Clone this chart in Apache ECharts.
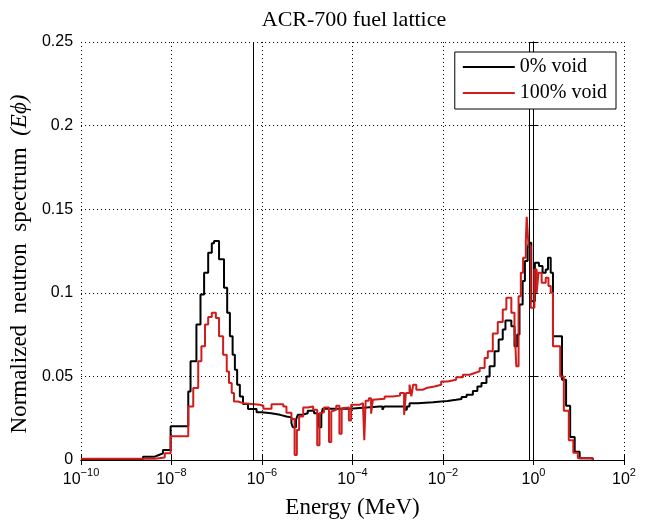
<!DOCTYPE html>
<html>
<head>
<meta charset="utf-8">
<script src="https://cdn.jsdelivr.net/npm/echarts@6/dist/echarts.min.js"></script>
<style>
  html, body { margin: 0; padding: 0; background: #fff; }
  #chart { width: 646px; height: 524px; }
</style>
</head>
<body>
<div id="chart"></div>
<script>
// energies as log10(E / MeV), one entry per group start
const logE0 = [-10, -8.63, -8.37, -8.28, -8.19, -8.02, -7.63, -7.58, -7.45, -7.36, -7.28, -7.19, -7.11, -7.06, -6.95, -6.84,
  -6.77, -6.71, -6.65, -6.60, -6.55, -6.49, -6.42, -6.31, -6.12, -6.01, -5.80, -5.60, -5.46, -5.35, -5.32, -5.25, -5.21,
  -5.12, -4.99, -4.85, -4.80, -4.74, -4.69, -4.66, -4.40, -4.06, -3.69, -3.40, -3.34, -3.30, -2.90, -2.85, -2.80, -2.74,
  -2.56, -2.22, -2.04, -1.90, -1.71, -1.59, -1.48, -1.34, -1.24, -1.15, -1.04, -0.97, -0.86, -0.77, -0.68, -0.62, -0.49,
  -0.42, -0.36, -0.31, -0.24, -0.19, -0.13, -0.10, -0.05, 0.03, 0.12, 0.20, 0.27, 0.32, 0.38, 0.43, 0.63, 0.72, 0.81,
  0.91, 1.02, 1.31];
const phi0 = [0.0005, 0.002, 0.003, 0.004, 0.006, 0.0202, 0.041, 0.059, 0.081, 0.099, 0.112, 0.124, 0.1297, 0.131, 0.120, 0.103,
  0.088, 0.074, 0.063, 0.054, 0.045, 0.038, 0.0335, 0.0305, 0.0285, 0.028, 0.027, 0.026, 0.0255, 0.022, 0.0196, 0.024, 0.027,
  0.028, 0.0295, 0.028, 0.027, 0.0196, 0.027, 0.0306, 0.0306, 0.0314, 0.032, 0.032, 0.030, 0.032, 0.032, 0.030, 0.032, 0.034,
  0.0345, 0.035, 0.0353, 0.036, 0.0365, 0.0377, 0.039, 0.0413, 0.044, 0.046, 0.050, 0.056, 0.065, 0.072, 0.078, 0.0835, 0.080,
  0.068, 0.075, 0.093, 0.107, 0.119, 0.127, 0.130, 0.095, 0.118, 0.116, 0.112, 0.114, 0.121, 0.112, 0.074, 0.048, 0.0324, 0.0137,
  0.0049, 0.001, 0];

const logE1 = [-10, -8.37, -8.15, -8.02, -7.63, -7.52, -7.41, -7.34, -7.26, -7.19, -7.11, -7.02, -6.95, -6.86, -6.78, -6.73,
  -6.67, -6.62, -6.53, -6.42, -6.05, -5.97, -5.79, -5.53, -5.46, -5.35, -5.28, -5.23, -5.18, -5.09, -4.99, -4.87, -4.78,
  -4.73, -4.69, -4.63, -4.52, -4.47, -4.43, -4.36, -4.29, -4.24, -4.20, -4.08, -4.03, -3.85, -3.77, -3.74, -3.71, -3.64,
  -3.59, -3.55, -3.51, -3.29, -3.11, -2.95, -2.86, -2.82, -2.74, -2.70, -2.66, -2.59, -2.45, -2.37, -2.19, -2.04, -1.90,
  -1.71, -1.56, -1.41, -1.30, -1.19, -1.08, -1.01, -0.90, -0.79, -0.68, -0.60, -0.49, -0.42, -0.38, -0.33, -0.28, -0.23,
  -0.17, -0.15, -0.11, -0.06, 0.02, 0.07, 0.11, 0.18, 0.27, 0.33, 0.38, 0.43, 0.59, 0.67, 0.78, 0.88, 0.98, 1.31];
const phi1 = [0.0007, 0.0015, 0.004, 0.0142, 0.032, 0.043, 0.059, 0.068, 0.081, 0.0855, 0.088, 0.085, 0.074, 0.063, 0.053, 0.046,
  0.040, 0.035, 0.034, 0.033, 0.0324, 0.0306, 0.0334, 0.032, 0.0283, 0.0245, 0.003, 0.018, 0.026, 0.0314, 0.032, 0.030, 0.0088,
  0.028, 0.0286, 0.0314, 0.0108, 0.029, 0.030, 0.0324, 0.0157, 0.031, 0.0314, 0.0236, 0.033, 0.034, 0.035, 0.0118, 0.0355, 0.037,
  0.0277, 0.036, 0.0366, 0.038, 0.0385, 0.040, 0.027, 0.040, 0.045, 0.038, 0.045, 0.042, 0.043, 0.044, 0.045, 0.047, 0.048,
  0.0495, 0.051, 0.052, 0.053, 0.055, 0.061, 0.065, 0.0757, 0.0825, 0.090, 0.097, 0.088, 0.080, 0.056, 0.098, 0.112, 0.121,
  0.131, 0.1455, 0.128, 0.091, 0.114, 0.100, 0.112, 0.106, 0.109, 0.104, 0.100, 0.068, 0.050, 0.0295, 0.0118, 0.0044, 0.001, 0];

const seriesNames = ['0% void', '100% void'];
const seriesColors = ['#000000', '#d01c1c'];
// group boundaries in MeV (thermal / fast cut-offs)
const cutoffsMeV = [6.25e-7, 0.821];

const serif = 'Liberation Serif';
const sans = 'Liberation Sans';

const pairs = (xs, ys) => xs.map((x, i) => [x, ys[i]]);

const chart = echarts.init(document.getElementById('chart'), null, { renderer: 'canvas' });

const dotted = { color: '#000', width: 1, type: [1, 3] };

chart.setOption({
  animation: false,
  backgroundColor: '#fff',
  title: {
    text: 'ACR-700 fuel lattice',
    left: 349, top: 4, textAlign: 'center',
    textStyle: { fontFamily: serif, fontSize: 22, fontWeight: 'normal', color: '#000' }
  },
  legend: {
    data: seriesNames,
    z: 20,
    orient: 'vertical',
    right: 30, top: 52,
    backgroundColor: '#fff',
    borderColor: '#000', borderWidth: 1, borderRadius: 0,
    padding: [5, 9, 6, 8],
    itemGap: 6,
    icon: 'rect',
    itemWidth: 52, itemHeight: 2,
    textStyle: { fontFamily: serif, fontSize: 20, color: '#000', lineHeight: 20 }
  },
  grid: { left: 81, right: 22, top: 42, bottom: 59 },
  xAxis: [{
    type: 'value', min: -10, max: 2, interval: 2,
    name: 'Energy (MeV)', nameLocation: 'middle', nameGap: 36,
    nameTextStyle: { fontFamily: serif, fontSize: 23, color: '#000' },
    axisLine: { lineStyle: { color: '#000', width: 1 } },
    axisTick: { inside: true, length: 5, lineStyle: { color: '#000' } },
    splitLine: { show: true, lineStyle: dotted },
    axisLabel: {
      margin: 7,
      formatter: v => '{b|10}{s|' + String(v).replace('-', '\u2212') + '}',
      rich: {
        b: { fontFamily: sans, fontSize: 16, color: '#000', verticalAlign: 'bottom' },
        s: { fontFamily: sans, fontSize: 11, color: '#000', verticalAlign: 'bottom', padding: [0, 0, 10, 0] }
      }
    }
  }, {
    type: 'value', min: -10, max: 2, interval: 2, position: 'top',
    axisLine: { lineStyle: { color: '#000', width: 1 } },
    axisTick: { inside: true, length: 5, lineStyle: { color: '#000' } },
    axisLabel: { show: false }, splitLine: { show: false }
  }],
  yAxis: [{
    type: 'value', min: 0, max: 0.25, interval: 0.05,
    name: 'Normalized  neutron  spectrum  {i|(E\u03d5)}', nameLocation: 'middle', nameGap: 44,
    nameTextStyle: {
      fontFamily: serif, fontSize: 23, color: '#000', padding: [0, 26, 0, 0],
      rich: { i: { fontFamily: serif, fontSize: 23, fontStyle: 'italic', color: '#000' } }
    },
    axisLine: { show: true, lineStyle: { color: '#000', width: 1 } },
    axisTick: { show: true, inside: true, length: 5, lineStyle: { color: '#000' } },
    splitLine: { show: true, lineStyle: dotted },
    axisLabel: { fontFamily: sans, fontSize: 16, color: '#000', margin: 8 }
  }, {
    type: 'value', min: 0, max: 0.25, interval: 0.05, position: 'right',
    axisLine: { show: true, lineStyle: { color: '#000', width: 1 } },
    axisTick: { show: true, inside: true, length: 5, lineStyle: { color: '#000' } },
    axisLabel: { show: false }, splitLine: { show: false }
  }],
  series: [{
    name: seriesNames[0], type: 'line', step: 'end', symbol: 'none',
    data: pairs(logE0, phi0),
    lineStyle: { color: seriesColors[0], width: 2 },
    itemStyle: { color: seriesColors[0] },
    markLine: {
      silent: true, symbol: 'none', label: { show: false },
      lineStyle: { color: '#000', width: 1, type: 'solid' },
      data: cutoffsMeV.map(e => ({ xAxis: Math.log10(e) }))
    }
  }, {
    name: seriesNames[1], type: 'line', step: 'end', symbol: 'none',
    data: pairs(logE1, phi1),
    lineStyle: { color: seriesColors[1], width: 2 },
    itemStyle: { color: seriesColors[1] }
  }]
});
</script>
</body>
</html>
